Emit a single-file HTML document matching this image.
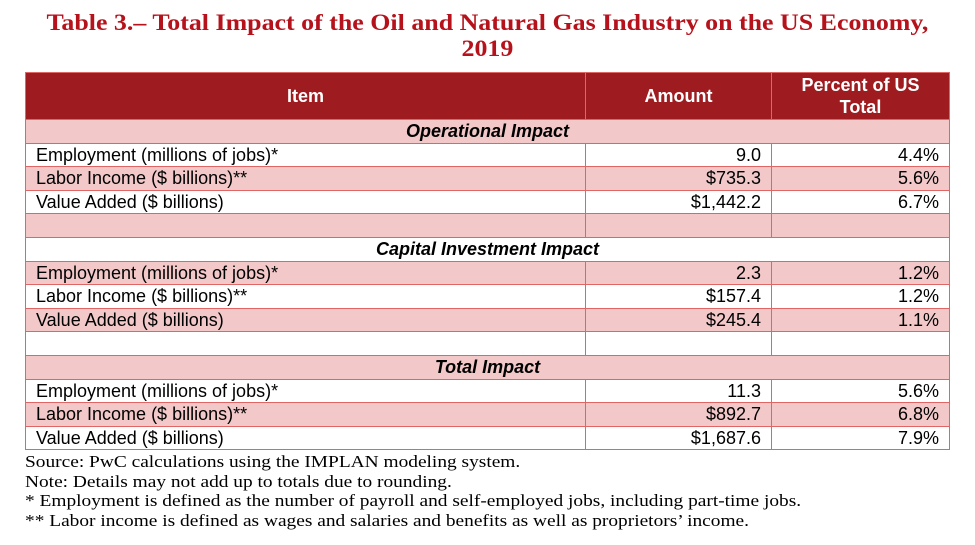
<!DOCTYPE html>
<html><head><meta charset="utf-8"><style>
html,body{margin:0;padding:0;background:#fff;width:975px;height:545px;overflow:hidden}
.t{position:absolute;left:0;width:975px;text-align:center;font-family:"Liberation Serif",serif;font-weight:bold;color:#b5121b;font-size:23px;line-height:26px;transform:scaleX(1.127);transform-origin:488px 0}
table{position:absolute;left:25px;top:72px;width:924px;border-collapse:collapse;font-family:"Liberation Sans",sans-serif;font-size:18px;table-layout:fixed}
td,th{border:1px solid #e06666;padding:0 10px;height:22.6px;line-height:20px;overflow:hidden;white-space:nowrap}
th{background:#9e1c20;color:#fff;font-weight:bold;height:46px;line-height:22px}
td.n{text-align:right}
td.h{text-align:center;font-weight:bold;font-style:italic}
tr.p td{background:#f2c8c9}
tr.w td{background:#fff}
.f{position:absolute;left:25px;font-family:"Liberation Serif",serif;font-size:17px;line-height:20px;color:#000;white-space:nowrap;transform:scaleX(1.14);transform-origin:0 0}
</style></head><body>
<div class="t" style="top:10px">Table 3.– Total Impact of the Oil and Natural Gas Industry on the US Economy,</div>
<div class="t" style="top:36px">2019</div>
<table>
<colgroup><col style="width:560px"><col style="width:186px"><col style="width:178px"></colgroup>
<tr><th>Item</th><th>Amount</th><th>Percent of US<br>Total</th></tr>
<tr class="p"><td class="h" colspan="3">Operational Impact</td></tr>
<tr class="w"><td>Employment (millions of jobs)*</td><td class="n">9.0</td><td class="n">4.4%</td></tr>
<tr class="p"><td>Labor Income ($ billions)**</td><td class="n">$735.3</td><td class="n">5.6%</td></tr>
<tr class="w"><td>Value Added ($ billions)</td><td class="n">$1,442.2</td><td class="n">6.7%</td></tr>
<tr class="p"><td></td><td></td><td></td></tr>
<tr class="w"><td class="h" colspan="3">Capital Investment Impact</td></tr>
<tr class="p"><td>Employment (millions of jobs)*</td><td class="n">2.3</td><td class="n">1.2%</td></tr>
<tr class="w"><td>Labor Income ($ billions)**</td><td class="n">$157.4</td><td class="n">1.2%</td></tr>
<tr class="p"><td>Value Added ($ billions)</td><td class="n">$245.4</td><td class="n">1.1%</td></tr>
<tr class="w"><td></td><td></td><td></td></tr>
<tr class="p"><td class="h" colspan="3">Total Impact</td></tr>
<tr class="w"><td>Employment (millions of jobs)*</td><td class="n">11.3</td><td class="n">5.6%</td></tr>
<tr class="p"><td>Labor Income ($ billions)**</td><td class="n">$892.7</td><td class="n">6.8%</td></tr>
<tr class="w"><td>Value Added ($ billions)</td><td class="n">$1,687.6</td><td class="n">7.9%</td></tr>
</table>
<div class="f" style="top:452px">Source: PwC calculations using the IMPLAN modeling system.</div>
<div class="f" style="top:472px">Note: Details may not add up to totals due to rounding.</div>
<div class="f" style="top:491px">* Employment is defined as the number of payroll and self-employed jobs, including part-time jobs.</div>
<div class="f" style="top:511px">** Labor income is defined as wages and salaries and benefits as well as proprietors’ income.</div>
</body></html>
